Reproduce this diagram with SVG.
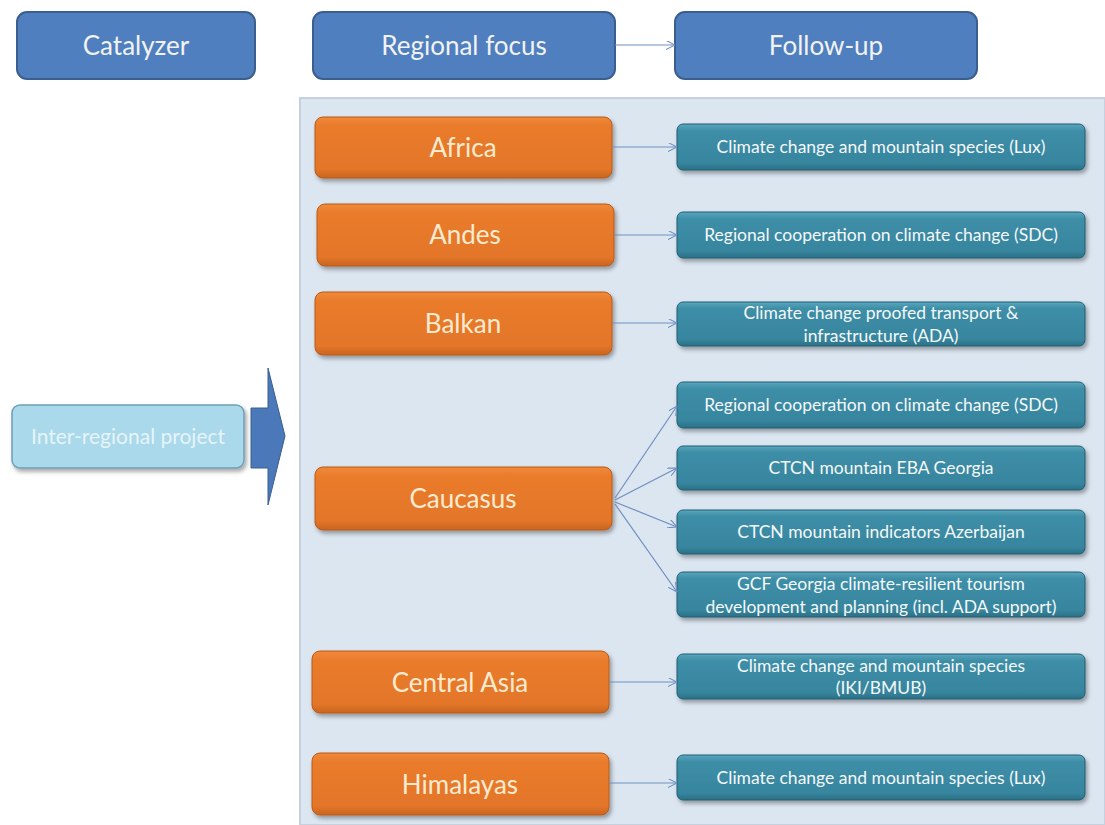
<svg xmlns="http://www.w3.org/2000/svg" width="1105" height="825" viewBox="0 0 1105 825">
<defs>
<style>
.hdr{fill:#4f7fbe;stroke:#3a5f8e;stroke-width:2}
.hdrt{font-family:Lato,"Open Sans",sans-serif;font-size:26px;fill:#f2f2f2;text-anchor:middle}
.org{fill:url(#og);stroke:#b85a18;stroke-width:1}
.orgt{font-family:Lato,"Open Sans",sans-serif;font-size:26px;fill:#fdebd0;text-anchor:middle}
.tl{fill:url(#tg);stroke:#1f5f72;stroke-width:1}
.tlt{font-family:Lato,"Open Sans",sans-serif;font-size:17.5px;fill:#f4f8fa;text-anchor:middle}
.con{stroke:#6f8fbf;stroke-width:1.2;fill:none;marker-end:url(#ah)}
</style>
<linearGradient id="og" x1="0" y1="0" x2="0" y2="1">
<stop offset="0" stop-color="#f08a3a"/><stop offset="0.15" stop-color="#e97b2c"/><stop offset="0.85" stop-color="#e4762a"/><stop offset="1" stop-color="#c9651f"/>
</linearGradient>
<linearGradient id="tg" x1="0" y1="0" x2="0" y2="1">
<stop offset="0" stop-color="#5aa6bd"/><stop offset="0.15" stop-color="#3e8ea7"/><stop offset="0.85" stop-color="#37859e"/><stop offset="1" stop-color="#2b6f85"/>
</linearGradient>
<filter id="sh" x="-5%" y="-20%" width="110%" height="150%">
<feDropShadow dx="2" dy="3" stdDeviation="2" flood-color="#000" flood-opacity="0.35"/>
</filter>
<marker id="ah" viewBox="0 0 10 10" refX="10" refY="5" markerWidth="9" markerHeight="9" orient="auto" markerUnits="userSpaceOnUse">
<path d="M0,0 L10,5 L0,10" fill="none" stroke="#6f8fbf" stroke-width="1.2"/>
</marker>
</defs>
<rect width="1105" height="825" fill="#ffffff"/>
<rect id="panel" x="300" y="98" width="805" height="727" fill="#dce6f1" stroke="#c5d1df" stroke-width="2"/>

<g id="catalyzer"><rect class="hdr" x="17" y="12" width="238" height="67" rx="10"/><text class="hdrt" x="136" y="55">Catalyzer</text></g>
<g id="regional-focus"><rect class="hdr" x="313" y="12" width="302" height="67" rx="10"/><text class="hdrt" x="464" y="55">Regional focus</text></g>
<g id="follow-up"><rect class="hdr" x="675" y="12" width="302" height="67" rx="10"/><text class="hdrt" x="826" y="55">Follow-up</text></g>

<g id="inter-regional"><rect x="12" y="405" width="232" height="63" rx="8" fill="#a9d9ea" stroke="#6f9fb5" stroke-width="1.5" filter="url(#sh)"/><text x="128" y="444" font-family="Lato,'Open Sans',sans-serif" font-size="21" fill="#e6f4f9" text-anchor="middle">Inter-regional project</text></g>
<g id="block-arrow"><path d="M251,408 L268,408 L268,368 L285,436 L268,505 L268,468 L251,468 Z" fill="#4a78b8" stroke="#3a5f8e" stroke-width="1"/></g>

<g id="africa"><rect class="org" x="315" y="117" width="297" height="61" rx="8" filter="url(#sh)"/><text class="orgt" x="463" y="157">Africa</text></g>
<g id="andes"><rect class="org" x="317" y="204" width="297" height="62" rx="8" filter="url(#sh)"/><text class="orgt" x="465" y="244">Andes</text></g>
<g id="balkan"><rect class="org" x="315" y="292" width="297" height="63" rx="8" filter="url(#sh)"/><text class="orgt" x="463" y="333">Balkan</text></g>
<g id="caucasus"><rect class="org" x="315" y="467" width="297" height="63" rx="8" filter="url(#sh)"/><text class="orgt" x="463" y="508">Caucasus</text></g>
<g id="central-asia"><rect class="org" x="312" y="651" width="297" height="62" rx="8" filter="url(#sh)"/><text class="orgt" x="460" y="692">Central Asia</text></g>
<g id="himalayas"><rect class="org" x="312" y="753" width="297" height="62" rx="8" filter="url(#sh)"/><text class="orgt" x="460" y="794">Himalayas</text></g>

<g id="f-africa"><rect class="tl" x="677" y="124" width="408" height="46" rx="6" filter="url(#sh)"/><text class="tlt" x="881" y="153">Climate change and mountain  species (Lux)</text></g>
<g id="f-andes"><rect class="tl" x="677" y="212" width="408" height="46" rx="6" filter="url(#sh)"/><text class="tlt" x="881" y="241">Regional cooperation on climate change (SDC)</text></g>
<g id="f-balkan"><rect class="tl" x="677" y="302" width="408" height="44" rx="6" filter="url(#sh)"/><text class="tlt" x="881" y="319">Climate change proofed transport &amp;</text><text class="tlt" x="881" y="342">infrastructure (ADA)</text></g>
<g id="f-cauc-sdc"><rect class="tl" x="677" y="382" width="408" height="46" rx="6" filter="url(#sh)"/><text class="tlt" x="881" y="411">Regional cooperation on climate change (SDC)</text></g>
<g id="f-cauc-eba"><rect class="tl" x="677" y="446" width="408" height="44" rx="6" filter="url(#sh)"/><text class="tlt" x="881" y="474">CTCN mountain  EBA Georgia</text></g>
<g id="f-cauc-aze"><rect class="tl" x="677" y="510" width="408" height="44" rx="6" filter="url(#sh)"/><text class="tlt" x="881" y="538">CTCN mountain  indicators Azerbaijan</text></g>
<g id="f-cauc-gcf"><rect class="tl" x="677" y="572" width="408" height="45" rx="6" filter="url(#sh)"/><text class="tlt" x="881" y="590">GCF Georgia climate-resilient tourism</text><text class="tlt" x="881" y="613">development  and planning (incl. ADA support)</text></g>
<g id="f-casia"><rect class="tl" x="677" y="654" width="408" height="45" rx="6" filter="url(#sh)"/><text class="tlt" x="881" y="672">Climate change and mountain  species</text><text class="tlt" x="881" y="694">(IKI/BMUB)</text></g>
<g id="f-himal"><rect class="tl" x="677" y="755" width="408" height="45" rx="6" filter="url(#sh)"/><text class="tlt" x="881" y="784">Climate change and mountain  species (Lux)</text></g>

<g id="connectors">
<line class="con" x1="615" y1="45" x2="675" y2="45"/>
<line class="con" x1="612" y1="147" x2="677" y2="147"/>
<line class="con" x1="614" y1="235" x2="677" y2="235"/>
<line class="con" x1="612" y1="323" x2="677" y2="323"/>
<line class="con" x1="615" y1="498" x2="677" y2="406"/>
<line class="con" x1="615" y1="500" x2="677" y2="468"/>
<line class="con" x1="615" y1="502" x2="677" y2="527"/>
<line class="con" x1="615" y1="504" x2="677" y2="592"/>
<line class="con" x1="609" y1="682" x2="677" y2="682"/>
<line class="con" x1="609" y1="783" x2="677" y2="783"/>
</g>
</svg>
